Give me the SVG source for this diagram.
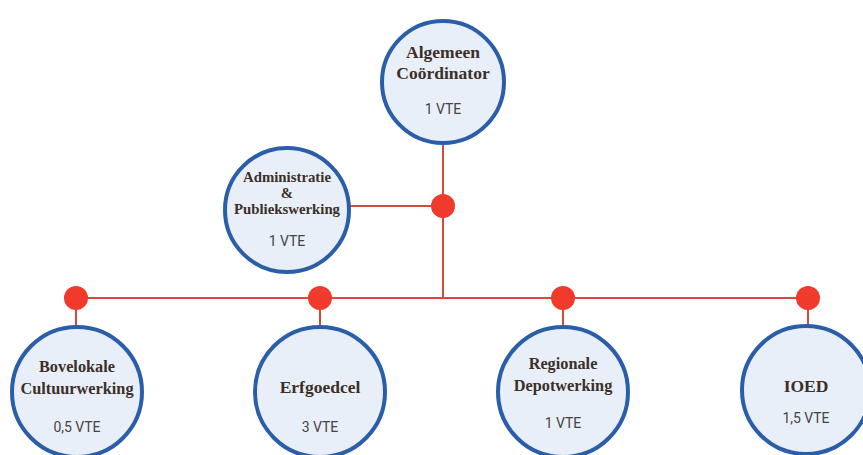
<svg xmlns="http://www.w3.org/2000/svg" width="863" height="455" viewBox="0 0 863 455">
<style>
.node{fill:#e9eff9;stroke:#2b5ea9;stroke-width:4}
.dot{fill:#ef3a2c}
.ln{stroke:#d9483e;stroke-width:2;fill:none}
.t{font-family:"Liberation Serif","DejaVu Serif",serif;font-weight:bold;fill:#3b2f28;text-anchor:middle}
.v{font-family:"Roboto","Liberation Sans",sans-serif;font-size:14px;fill:#444;text-anchor:middle}
</style>
<rect width="863" height="455" fill="#ffffff"/>
<g id="connectors">
<path class="ln" d="M443,143 V297"/>
<path class="ln" d="M350,206 H443"/>
<path class="ln" d="M76,298 H808"/>
<path class="ln" d="M76,298 V327 M320,298 V327 M563,298 V327 M808,298 V325"/>
<circle class="dot" cx="443" cy="206" r="12"/>
<circle class="dot" cx="76" cy="298" r="12"/>
<circle class="dot" cx="320" cy="298" r="12"/>
<circle class="dot" cx="563" cy="298" r="12"/>
<circle class="dot" cx="808" cy="298" r="12"/>
</g>
<g id="algemeen">
<circle class="node" cx="443" cy="82" r="61"/>
<text class="t" x="443" y="58" font-size="17.5">Algemeen</text>
<text class="t" x="443" y="79" font-size="17.5">Coördinator</text>
<text class="v" x="443" y="114">1 VTE</text>
</g>
<g id="administratie">
<circle class="node" cx="287" cy="210" r="62"/>
<text class="t" x="287" y="182" font-size="14.8">Administratie</text>
<text class="t" x="287" y="198" font-size="14.8">&amp;</text>
<text class="t" x="287" y="214" font-size="14.8">Publiekswerking</text>
<text class="v" x="287" y="246">1 VTE</text>
</g>
<g id="bovelokale">
<circle class="node" cx="77" cy="392" r="65"/>
<text class="t" x="77" y="372" font-size="16.3">Bovelokale</text>
<text class="t" x="77" y="394" font-size="16.3">Cultuurwerking</text>
<text class="v" x="77" y="432">0,5 VTE</text>
</g>
<g id="erfgoedcel">
<circle class="node" cx="320" cy="392" r="65"/>
<text class="t" x="320" y="393" font-size="17.5">Erfgoedcel</text>
<text class="v" x="320" y="432">3 VTE</text>
</g>
<g id="regionale">
<circle class="node" cx="563" cy="392" r="65"/>
<text class="t" x="563" y="369" font-size="16.3">Regionale</text>
<text class="t" x="563" y="391" font-size="16.3">Depotwerking</text>
<text class="v" x="563" y="428">1 VTE</text>
</g>
<g id="ioed">
<circle class="node" cx="806" cy="390" r="64"/>
<text class="t" x="806" y="392" font-size="17.5">IOED</text>
<text class="v" x="806" y="423">1,5 VTE</text>
</g>
</svg>
